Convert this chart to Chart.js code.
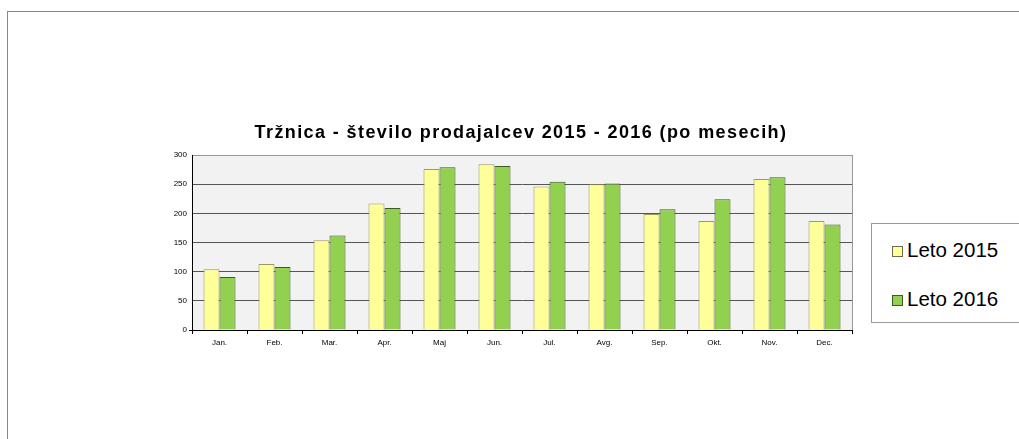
<!DOCTYPE html>
<html>
<head>
<meta charset="utf-8">
<script src="https://cdn.jsdelivr.net/npm/chart.js@4/dist/chart.umd.min.js"></script>
<style>
  html, body { margin: 0; padding: 0; background: #fff; }
  #wrap { position: relative; width: 1019px; height: 439px; overflow: hidden; font-family: "Liberation Sans", Arial, sans-serif; }
  #frame { position: absolute; left: 7px; top: 11px; width: 1100px; height: 500px; border-left: 1px solid #888; border-top: 1px solid #888; box-sizing: border-box; }
  #c { position: absolute; left: 0; top: 0; }
  #legend { position: absolute; left: 871px; top: 223px; width: 200px; height: 100px; border: 1px solid #999; box-sizing: border-box; background: #fff; }
  .sw { position: absolute; left: 20px; width: 11px; height: 11px; box-sizing: border-box; border: 1px solid #555; }
  .lt { position: absolute; left: 35px; font-size: 20.5px; line-height: 20.5px; white-space: nowrap; color: #000; }
</style>
</head>
<body>
<div id="wrap">
  <div id="frame"></div>
  <canvas id="c" width="1019" height="439"></canvas>
  <div id="legend"></div>
</div>
<script>
const titleText = "Tržnica - število prodajalcev 2015 - 2016 (po mesecih)";
const months = ["Jan.", "Feb.", "Mar.", "Apr.", "Maj", "Jun.", "Jul.", "Avg.", "Sep.", "Okt.", "Nov.", "Dec."];
const seriesNames = ["Leto 2015", "Leto 2016"];
const values2015 = [104, 113, 154, 217, 276, 284, 246, 250, 199, 187, 259, 187];
const values2016 = [91, 108, 162, 209, 279, 281, 254, 251, 207, 224, 262, 181];
const fillColors = ["#ffff99", "#92d050"];
const borderColors = ["#9b9b5e", "#3d5a22"];

// HTML legend built from series names
const legend = document.getElementById('legend');
const rowTops = [15.6, 64.6];
const swTops = [21.7, 70.7];
seriesNames.forEach((name, i) => {
  const sw = document.createElement('div');
  sw.className = 'sw';
  sw.style.top = swTops[i] + 'px';
  sw.style.background = fillColors[i];
  sw.style.borderColor = i === 0 ? '#6b6b50' : '#3d5a22';
  legend.appendChild(sw);
  const t = document.createElement('div');
  t.className = 'lt';
  t.style.top = rowTops[i] + 'px';
  t.textContent = name;
  legend.appendChild(t);
});

const bgPlugin = {
  id: 'plotBg',
  beforeDraw(chart) {
    const {ctx, chartArea: a} = chart;
    ctx.save();
    ctx.fillStyle = '#f2f2f2';
    ctx.fillRect(a.left, a.top, a.right - a.left, a.bottom - a.top);
    ctx.restore();
    // widen title letter spacing and nudge it to match the reference rendering
    const tb = chart.titleBlock;
    if (tb && !tb._spaced) {
      const orig = tb.draw.bind(tb);
      tb.draw = function () {
        const c = chart.ctx;
        c.save();
        c.translate(11, 1);
        c.letterSpacing = '1.4px';
        orig();
        c.letterSpacing = '0px';
        c.restore();
      };
      tb._spaced = true;
    }
  },
  afterDraw(chart) {
    const {ctx, chartArea: a} = chart;
    ctx.save();
    ctx.strokeStyle = '#999';
    ctx.lineWidth = 1;
    ctx.beginPath();
    ctx.moveTo(Math.round(a.right) + 0.5, a.top);
    ctx.lineTo(Math.round(a.right) + 0.5, a.bottom);
    ctx.stroke();
    ctx.restore();
  }
};

new Chart(document.getElementById('c'), {
  type: 'bar',
  data: {
    labels: months,
    datasets: [
      { label: seriesNames[0], data: values2015, backgroundColor: fillColors[0], borderColor: borderColors[0], borderWidth: 1 },
      { label: seriesNames[1], data: values2016, backgroundColor: fillColors[1], borderColor: borderColors[1], borderWidth: 1 }
    ]
  },
  options: {
    responsive: false,
    animation: false,
    events: [],
    layout: { padding: { left: 168, right: 167, top: 0, bottom: 89 } },
    datasets: { bar: { categoryPercentage: 0.582, barPercentage: 1.0 } },
    plugins: {
      legend: { display: false },
      tooltip: { enabled: false },
      title: {
        display: true,
        text: titleText,
        color: '#000',
        font: { family: '"Liberation Sans", Arial, sans-serif', size: 18, weight: 'bold', lineHeight: 1.2 },
        padding: { top: 121, bottom: 12.4 }
      }
    },
    scales: {
      x: {
        afterFit: (s) => { s.height = 20; },
        grid: { offset: true, drawOnChartArea: false, drawTicks: true, tickLength: 4, color: '#000' },
        border: { color: '#000', width: 1 },
        ticks: { color: '#000', font: { family: '"Liberation Sans", Arial, sans-serif', size: 8 }, padding: 4, maxRotation: 0, autoSkip: false }
      },
      y: {
        min: 0, max: 300,
        afterFit: (s) => { s.width = 24; },
        grid: {
          color: (c) => c.tick && c.tick.value === 300 ? '#999' : '#555',
          tickColor: (c) => c.tick && c.tick.value === 0 ? '#000' : 'rgba(0,0,0,0)',
          tickLength: 3, drawTicks: true
        },
        border: { color: '#000', width: 1 },
        ticks: { stepSize: 50, color: '#000', font: { family: '"Liberation Sans", Arial, sans-serif', size: 8 }, padding: 2 }
      }
    }
  },
  plugins: [bgPlugin]
});
</script>
</body>
</html>
